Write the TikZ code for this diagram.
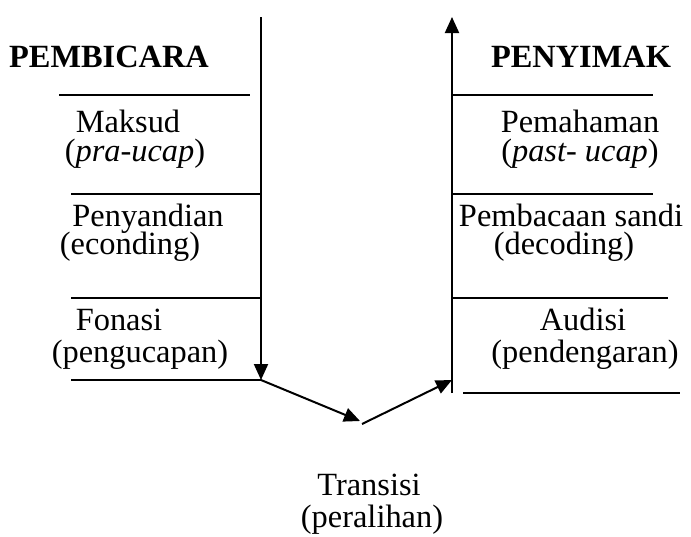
\documentclass[tikz,border=0pt]{standalone}
\usepackage{fontspec}
\setmainfont{Liberation Serif}
\usetikzlibrary{arrows.meta}
\begin{document}
\begin{tikzpicture}[x=0.5pt,y=-0.5pt,
  rule/.style={line width=1.1pt},
  flow/.style={line width=1pt,-{Triangle[length=8pt,width=7pt]}},
  lbl/.style={anchor=base,inner sep=0pt,font=\fontsize{16.2}{19}\selectfont},
  ttl/.style={anchor=base,inner sep=0pt,font=\fontsize{16.2}{19}\selectfont\bfseries}]
\useasboundingbox (0,0) rectangle (691,536);
% titles
\node[ttl] (pembicara) at (109,67) {PEMBICARA};
\node[ttl] (penyimak) at (581,67) {PENYIMAK};
% left column
\node[lbl] (maksud) at (128,132) {Maksud};
\node[lbl] (praucap) at (135,161) {(\textit{pra-ucap})};
\node[lbl] (penyandian) at (148,226) {Penyandian};
\node[lbl] (econding) at (130,254) {(econding)};
\node[lbl] (fonasi) at (119,330) {Fonasi};
\node[lbl] (pengucapan) at (140,362) {(pengucapan)};
% right column
\node[lbl] (pemahaman) at (580,132) {Pemahaman};
\node[lbl] (pastucap) at (580,161) {(\textit{past- ucap})};
\node[lbl] (pembacaan) at (571,226) {Pembacaan sandi};
\node[lbl] (decoding) at (564,254) {(decoding)};
\node[lbl] (audisi) at (583,330) {Audisi};
\node[lbl] (pendengaran) at (585,362) {(pendengaran)};
% bottom
\node[lbl] (transisi) at (369,495) {Transisi};
\node[lbl] (peralihan) at (372,527) {(peralihan)};
% separator rules
\draw[rule] (59,95) -- (250,95);
\draw[rule] (71,194) -- (261,194);
\draw[rule] (71,298) -- (261,298);
\draw[rule] (71,380) -- (261,380);
\draw[rule] (453,95) -- (653,95);
\draw[rule] (453,194) -- (653,194);
\draw[rule] (453,298) -- (668,298);
\draw[rule] (463,393) -- (680,393);
% connectors
\coordinate (ltop) at (261,17);
\coordinate (lbot) at (261,380);
\coordinate (vtip) at (360,421);
\coordinate (vstart) at (362,424);
\coordinate (rjoin) at (452,380);
\coordinate (rbot) at (452,393);
\coordinate (rtop) at (452,17);
\draw[flow] (ltop) -- (lbot);
\draw[flow] (lbot) -- (vtip);
\draw[flow] (vstart) -- (rjoin);
\draw[flow] (rbot) -- (rtop);
\end{tikzpicture}
\end{document}
